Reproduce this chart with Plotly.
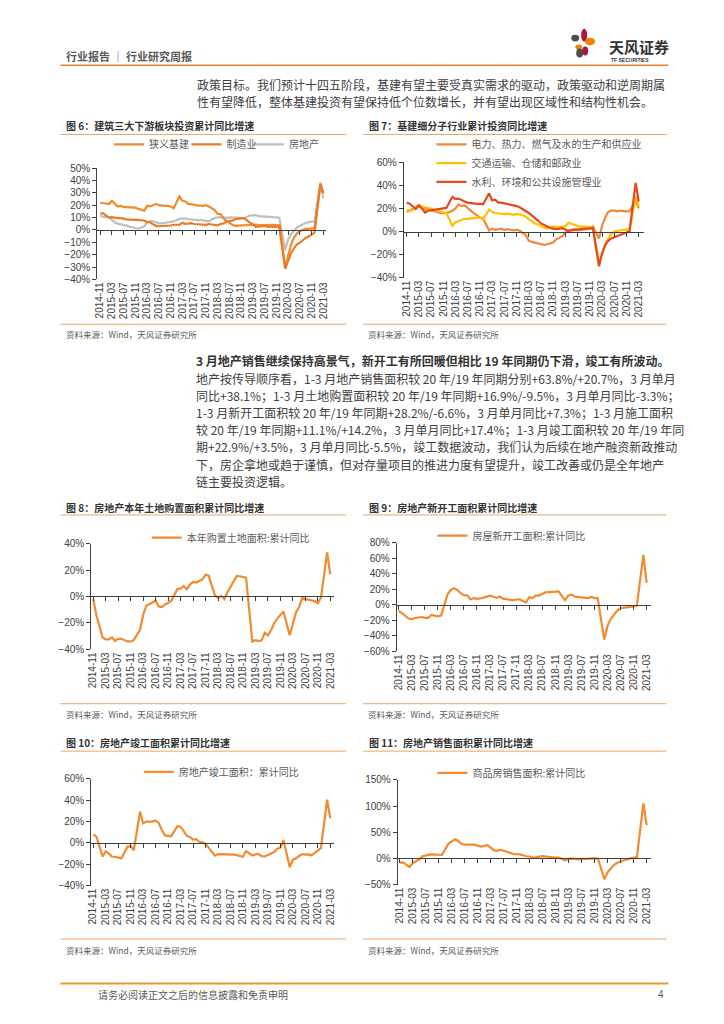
import plotly.graph_objects as go

W, H = 724, 1024
FONT = "Noto Sans CJK SC"
NUMFONT = "Liberation Sans"

# ---------------- data ----------------
months = []
for yy in range(2014, 2022):
    for mm in range(1, 13):
        if (yy == 2014 and mm < 11) or (yy == 2021 and mm > 3):
            continue
        months.append(f"{yy}-{mm:02d}")
tick_labels = months[::4]

# Fig 6
infra = [22.0, 21.5,
         None, 21.0, 23.5, 21.0, 19.0, 19.5, 18.5, 18.5, 18.2, 17.8, 18.0, 17.0,
         None, 15.5, 19.5, 19.0, 20.0, 21.0, 20.0, 19.5, 19.5, 19.5, 19.0, 17.5,
         None, 27.0, 23.5, 23.0, 21.0, 21.0, 20.5, 19.8, 19.5, 19.5, 20.0, 19.0,
         None, 16.1, 13.0, 12.9, 9.4, 7.3, 5.7, 4.2, 3.3, 3.7, 3.7, 3.8,
         None, 4.3, 4.4, 4.4, 4.0, 4.1, 3.8, 4.2, 4.5, 4.2, 4.0, 3.8,
         None, -30.3, -19.7, -11.8, -6.3, -2.7, -1.0, 0.2, 0.7, 1.0, 1.2, 0.9,
         None, 36.6, 29.7]
manuf = [13.5, 13.5,
         None, 10.0, 10.4, 10.0, 9.9, 9.7, 9.2, 8.6, 8.3, 8.3, 8.2, 8.1,
         None, 7.5, 6.4, 6.0, 4.6, 3.3, 3.0, 3.0, 3.1, 3.1, 3.6, 4.2,
         None, 4.3, 5.8, 5.0, 5.1, 5.5, 4.8, 4.5, 4.2, 4.1, 4.1, 4.8,
         None, 4.3, 3.8, 4.8, 5.2, 6.8, 7.3, 7.5, 8.7, 9.1, 9.5, 9.5,
         None, 5.9, 4.6, 2.5, 2.7, 3.0, 3.3, 2.6, 2.5, 2.6, 2.5, 3.1,
         None, -31.5, -25.2, -18.8, -14.8, -11.7, -10.2, -8.1, -6.5, -5.3, -3.5, -2.2,
         None, 37.3, 29.8]
realty = [11.9, 10.5,
          None, 10.4, 8.5, 6.0, 5.1, 4.6, 4.3, 3.5, 2.6, 2.0, 1.3, 1.0,
          None, 3.0, 6.2, 7.2, 7.0, 6.1, 5.3, 5.4, 5.8, 6.6, 6.5, 6.9,
          None, 8.9, 9.1, 9.3, 8.8, 8.5, 7.9, 7.9, 8.1, 7.8, 7.5, 7.0,
          None, 9.9, 10.4, 10.3, 10.2, 9.7, 10.2, 10.1, 9.9, 9.7, 9.7, 9.5,
          None, 11.6, 11.8, 11.9, 11.2, 10.9, 10.6, 10.5, 10.5, 10.3, 10.2, 9.9,
          None, -16.3, -7.7, -3.3, -0.3, 1.9, 3.4, 4.6, 5.6, 6.3, 6.8, 7.0,
          None, 38.3, 25.6]

# Fig 7
power = [18.0, 18.0,
         None, 21.0, 23.0, 21.0, 19.5, 19.0, 18.5, 18.0, 17.0, 16.0, 16.0, 16.0,
         None, 18.0, 20.0, 23.5, 22.0, 22.5, 20.0, 18.0, 16.0, 14.0, 12.0, 11.3,
         None, 1.0, 2.5, 1.5, 2.0, 2.5, 1.5, 2.0, 1.5, 1.0, 1.5, 0.8,
         None, -3.0, -8.0, -9.0, -9.5, -10.0, -11.0, -11.5, -11.0, -10.0, -9.5, -6.7,
         None, -4.0, -1.0, 1.0, 1.5, 2.0, 1.0, 1.5, 2.0, 2.5, 2.5, 4.5,
         None, -6.0, 5.0, 12.0, 17.0, 18.0, 18.0, 17.5, 18.0, 17.5, 17.5, 17.6,
         None, 27.0, 20.0]
transport = [17.0, 17.5,
             None, 20.0, 22.5, 21.5, 21.0, 20.5, 19.5, 19.0, 18.0, 17.0, 16.5, 16.0,
             None, 5.0, 8.0, 9.0, 10.0, 11.0, 11.0, 11.5, 12.0, 12.0, 12.0, 10.5,
             None, 19.0, 17.0, 16.0, 15.5, 15.0, 15.0, 15.5, 15.0, 14.5, 15.0, 14.8,
             None, 13.0, 10.5, 9.0, 7.0, 6.0, 4.5, 3.5, 3.0, 4.0, 4.5, 3.9,
             None, 4.0, 4.5, 7.5, 6.5, 5.5, 5.0, 4.5, 4.5, 4.0, 4.0, 3.4,
             None, -28.0, -19.0, -11.0, -6.0, -2.0, 0.0, 0.5, 1.0, 1.5, 1.8, 1.4,
             None, 30.0, 22.0]
water = [25.0, 24.0,
         None, 19.5, 22.5, 20.0, 16.5, 18.0, 18.5, 19.0, 19.5, 20.0, 20.5, 20.4,
         None, 30.0, 28.0, 28.5, 27.0, 26.0, 25.0, 24.5, 24.0, 24.0, 24.0, 23.5,
         None, 33.0, 27.0, 27.5, 25.0, 25.0, 24.5, 24.0, 23.0, 22.5, 22.0, 21.0,
         None, 18.0, 16.0, 14.0, 12.0, 9.5, 7.0, 5.5, 4.0, 3.0, 2.5, 2.0,
         None, 3.0, 1.5, 0.5, 1.0, 1.5, 1.5, 2.0, 2.5, 2.5, 3.0, 2.9,
         None, -30.0, -19.0, -12.0, -8.0, -6.0, -5.0, -4.0, -3.0, -2.0, -1.0, 0.2,
         None, 42.0, 26.0]

# Fig 8
land = [-2.0, -14.0,
        None, -31.0, -32.5, -32.5, -31.0, -33.5, -32.0, -32.0, -33.0, -34.0, -34.0, -33.0,
        None, -25.0, -14.0, -7.0, -6.0, -4.5, -3.0, -7.5, -8.0, -6.0, -5.0, -3.4,
        None, 5.8, 6.0, 8.0, 5.5, 9.0, 11.0, 10.5, 12.0, 13.0, 16.5, 15.8,
        None, 1.0, -1.0, 0.5, -2.0, 3.0, 7.5, 11.5, 15.5, 15.3, 14.5, 14.2,
        None, -34.1, -33.1, -33.8, -33.2, -27.5, -29.4, -25.6, -20.2, -16.7, -14.2, -11.4,
        None, -29.3, -21.0, -12.0, -8.0, -1.0, -1.9, -2.5, -3.0, -3.5, -5.0, -1.1,
        None, 33.3, 16.9]

# Fig 9
newstart = [-8.0, -10.7,
            None, -17.7, -18.4, -17.0, -16.0, -15.8, -16.8, -16.8, -13.0, -13.9, -15.0, -14.0,
            None, 13.7, 19.2, 21.4, 18.9, 14.9, 12.3, 12.2, 6.9, 8.6, 7.6, 8.1,
            None, 10.4, 11.6, 10.4, 8.8, 10.6, 7.9, 7.2, 6.5, 5.6, 6.8, 7.0,
            None, 2.9, 9.7, 8.5, 11.8, 11.8, 14.4, 15.9, 16.4, 16.3, 16.8, 17.2,
            None, 6.0, 11.9, 13.1, 10.5, 10.1, 9.5, 8.9, 8.6, 10.0, 8.6, 8.5,
            None, -44.9, -27.2, -18.4, -12.8, -7.6, -4.5, -3.6, -3.4, -2.7, -2.0, -1.2,
            None, 64.3, 28.2]

# Fig 10
complete = [8.0, 5.9,
            None, -12.8, -8.0, -10.0, -12.9, -13.0, -13.5, -14.5, -9.0, -3.5, -3.0, -6.9,
            None, 29.3, 18.3, 20.0, 20.0, 20.0, 21.0, 18.5, 12.0, 7.0, 6.5, 6.1,
            None, 15.8, 15.0, 11.0, 6.5, 5.5, 3.0, 3.5, 1.0, 0.5, -1.0, -4.4,
            None, -12.0, -10.5, -10.5, -10.6, -11.0, -10.6, -11.0, -11.5, -12.5, -13.0, -7.8,
            None, -11.9, -10.8, -10.3, -12.4, -12.7, -11.3, -10.0, -8.6, -5.5, -4.5, 2.6,
            None, -22.9, -15.8, -14.5, -12.3, -10.5, -11.0, -10.8, -11.6, -9.2, -7.0, -4.9,
            None, 40.4, 22.9]

# Fig 11
sales = [-8.0, -7.6,
         None, -16.3, -9.2, -5.4, -2.2, 3.9, 6.1, 7.2, 7.5, 7.2, 7.4, 6.5,
         None, 28.2, 33.1, 36.5, 33.2, 27.9, 26.4, 26.2, 26.9, 26.3, 24.3, 22.5,
         None, 25.1, 19.5, 15.7, 14.3, 16.1, 14.7, 12.7, 10.3, 8.2, 7.9, 7.7,
         None, 4.1, 3.6, 1.3, 2.9, 3.3, 4.2, 4.0, 2.9, 2.2, 1.4, 1.3,
         None, -3.6, -0.9, -0.3, -1.6, -1.8, -1.3, -0.6, -0.1, 0.1, 0.2, -0.1,
         None, -39.9, -26.3, -19.3, -12.3, -8.4, -5.8, -3.3, -1.8, 0.0, 1.3, 2.6,
         None, 104.9, 63.8]

ORANGE = "#F28A30"
C_INFRA, C_MANUF, C_REALTY = "#F5892A", "#EE7A22", "#BFBFBF"
C_POWER, C_TRANS, C_WATER = "#F0883A", "#FFC000", "#E9461C"

# ---------------- layout helpers ----------------
def px(x):
    return x / W

def py(y):
    return 1 - y / H

fig = go.Figure()
layout = {}
shapes = []
annotations = []

panels = [
    dict(x0=94, x1=325, yt=164, yb=276.7, yr=(-40, 50), dt=10, fx=97, lx=322),
    dict(x0=403, x1=645, yt=158, yb=275, yr=(-40, 60), dt=20, fx=406, lx=640),
    dict(x0=88, x1=333, yt=544, yb=651, yr=(-40, 40), dt=20, fx=90, lx=329),
    dict(x0=396, x1=652, yt=543, yb=653, yr=(-60, 80), dt=20, fx=398, lx=648),
    dict(x0=88, x1=333, yt=782, yb=890, yr=(-40, 60), dt=20, fx=90, lx=329),
    dict(x0=397, x1=652, yt=783, yb=889, yr=(-50, 150), dt=50, fx=399, lx=648),
]
n = len(months)
for i, p in enumerate(panels, start=1):
    ppm = (p["lx"] - p["fx"]) / (n - 1)
    xr = [-(p["fx"] - p["x0"]) / ppm, (n - 1) + (p["x1"] - p["lx"]) / ppm]
    dx = [px(p["x0"]), px(p["x1"])]
    dy = [py(p["yb"]), py(p["yt"])]
    sx = "" if i == 1 else str(i)
    layout["xaxis" + sx] = dict(
        domain=dx, anchor="y" + sx, range=xr, type="category",
        categoryorder="array", categoryarray=months,
        tickmode="array", tickvals=tick_labels, ticktext=tick_labels,
        tickangle=-90, ticks="", showline=False, showgrid=False, zeroline=False,
        tickfont=dict(family=NUMFONT, size=10, color="#404040"),
    )
    layout["yaxis" + sx] = dict(
        domain=dy, anchor="x" + sx, range=list(p["yr"]), dtick=p["dt"],
        tick0=0, ticksuffix="%", showline=True, linecolor="#404040", linewidth=1,
        ticks="outside", ticklen=4, tickcolor="#404040", showgrid=False,
        zeroline=False, tickfont=dict(family=NUMFONT, size=10, color="#404040"),
    )
    frac = (0 - p["yr"][0]) / (p["yr"][1] - p["yr"][0])
    zpos = dy[0] + frac * (dy[1] - dy[0])
    k = i + 6
    layout["xaxis" + str(k)] = dict(
        overlaying="x" + sx, anchor="free", position=zpos, range=xr,
        type="category", categoryorder="array", categoryarray=months,
        tickmode="array", tickvals=tick_labels, showticklabels=False,
        ticks="outside", ticklen=4, tickcolor="#404040", showline=True,
        linecolor="#404040", linewidth=1, showgrid=False, zeroline=False,
    )

series = [
    (1, "狭义基建", infra, C_INFRA),
    (1, "制造业", manuf, C_MANUF),
    (1, "房地产", realty, C_REALTY),
    (2, "电力、热力、燃气及水的生产和供应业", power, C_POWER),
    (2, "交通运输、仓储和邮政业", transport, C_TRANS),
    (2, "水利、环境和公共设施管理业", water, C_WATER),
    (3, "本年购置土地面积:累计同比", land, ORANGE),
    (4, "房屋新开工面积:累计同比", newstart, ORANGE),
    (5, "房地产竣工面积：累计同比", complete, ORANGE),
    (6, "商品房销售面积:累计同比", sales, ORANGE),
]
legend_pos = [(114, 143), (192, 143), (255, 143),
              (439, 143), (439, 162), (439, 181),
              (152, 541), (440, 539), (144, 778), (440, 779)]

order = [2, 0, 1, 3, 4, 5, 6, 7, 8, 9]
for j in order:
    pi, name, vals, col = series[j]
    sx = "" if pi == 1 else str(pi)
    lg = "legend" if j == 0 else "legend" + str(j + 1)
    fig.add_trace(go.Scatter(
        x=months, y=vals, name=name, mode="lines", connectgaps=True,
        line=dict(color=col, width=2.2), xaxis="x" + sx, yaxis="y" + sx,
        legend=lg, hoverinfo="skip"))
for i in range(1, 7):
    fig.add_trace(go.Scatter(
        x=months, y=series[[0, 3, 6, 7, 8, 9][i - 1]][2], mode="lines",
        line=dict(width=0, color="rgba(0,0,0,0)"), showlegend=False,
        xaxis="x" + str(i + 6), yaxis="y" + ("" if i == 1 else str(i)),
        hoverinfo="skip"))

for j, (lx, ly) in enumerate(legend_pos):
    key = "legend" if j == 0 else "legend" + str(j + 1)
    layout[key] = dict(
        x=px(lx - 8), y=py(ly - 3), xanchor="left", yanchor="middle",
        orientation="h", bgcolor="rgba(0,0,0,0)", borderwidth=0,
        font=dict(family=FONT, size=10, color="#595959"),
        itemwidth=30, tracegroupgap=0)

# ---------------- page text ----------------
def text(x, y, s, size=11, color="#404040", bold=False, anchor="left", family=FONT):
    annotations.append(dict(
        x=px(x), y=py(y), xref="paper", yref="paper", text=("<b>%s</b>" % s) if bold else s,
        showarrow=False, xanchor=anchor, yanchor="middle",
        font=dict(family=family, size=size, color=color)))

def hline(x0, x1, y, color, width=1):
    shapes.append(dict(type="line", xref="paper", yref="paper",
                       x0=px(x0), x1=px(x1), y0=py(y), y1=py(y),
                       line=dict(color=color, width=width)))

text(60, 51, "行业报告 ｜ 行业研究周报", size=11, color="#595959", bold=True)
hline(57, 670, 60, "#ED7D31", 1.6)
text(608, 40.5, "天风证券", size=15, color="#333333", bold=True)
text(610, 54.5, "TF SECURITIES", size=5, color="#333333", bold=True, family=NUMFONT)
petals = [
    (572, 29, 580, 36, "#4D4D4D"),
    (582, 23, 588, 36, "#B5123E"),
    (586, 32, 596, 40, "#F08300"),
    (576, 39, 583, 44, "#F08300"),
    (577, 43, 584, 52, "#4D4D4D"),
    (583, 41, 589, 50, "#B5123E"),
]
for x0, y0, x1, y1, c in petals:
    shapes.append(dict(type="circle", xref="paper", yref="paper",
                       x0=px(x0), x1=px(x1), y0=py(y1), y1=py(y0),
                       fillcolor=c, line=dict(width=0)))

para1 = ["政策目标。我们预计十四五阶段，基建有望主要受真实需求的驱动，政策驱动和逆周期属",
         "性有望降低，整体基建投资有望保持低个位数增长，并有望出现区域性和结构性机会。"]
for k, s in enumerate(para1):
    text(193, 79 + 17.6 * k, s, size=12, color="#404040")

para2 = ["地产按传导顺序看，1-3 月地产销售面积较 20 年/19 年同期分别+63.8%/+20.7%，3 月单月",
         "同比+38.1%；1-3 月土地购置面积较 20 年/19 年同期+16.9%/-9.5%，3 月单月同比-3.3%；",
         "1-3 月新开工面积较 20 年/19 年同期+28.2%/-6.6%，3 月单月同比+7.3%；1-3 月施工面积",
         "较 20 年/19 年同期+11.1%/+14.2%，3 月单月同比+17.4%；1-3 月竣工面积较 20 年/19 年同",
         "期+22.9%/+3.5%，3 月单月同比-5.5%，竣工数据波动，我们认为后续在地产融资新政推动",
         "下，房企拿地或趋于谨慎，但对存量项目的推进力度有望提升，竣工改善或仍是全年地产",
         "链主要投资逻辑。"]
text(192, 359, "3 月地产销售继续保持高景气，新开工有所回暖但相比 19 年同期仍下滑，竣工有所波动。",
     size=12, color="#333333", bold=True)
for k, s in enumerate(para2):
    text(192, 376.5 + 17.4 * k, s, size=12, color="#404040")

titles = [
    (60, 121, "图 6：建筑三大下游板块投资累计同比增速"),
    (366, 121, "图 7：基建细分子行业累计投资同比增速"),
    (60, 507, "图 8：房地产本年土地购置面积累计同比增速"),
    (366, 507, "图 9：房地产新开工面积累计同比增速"),
    (60, 745, "图 10：房地产竣工面积累计同比增速"),
    (366, 745, "图 11：房地产销售面积累计同比增速"),
]
for x, y, s in titles:
    text(x, y, s, size=10, color="#333333", bold=True)
frames = [(57, 345, 130, 322, 332), (362, 668, 130, 322, 332),
          (57, 345, 515, 706, 716), (362, 668, 515, 706, 716),
          (57, 345, 754, 944, 955), (362, 668, 754, 944, 955)]
for x0, x1, yt, yb, ys in frames:
    hline(x0, x1, yt, "#F4A460", 1)
    hline(x0, x1, yb, "#F4A460", 1)
    text(x0 + 3, ys, "资料来源：Wind，天风证券研究所", size=8.5, color="#595959")

hline(57, 670, 989, "#EE9A2E", 2)
text(93, 1000, "请务必阅读正文之后的信息披露和免责申明", size=10, color="#595959")
text(668, 1000, "4", size=10, color="#595959", anchor="right", family=NUMFONT)

fig.update_layout(
    width=W, height=H, margin=dict(l=0, r=0, t=0, b=0),
    paper_bgcolor="white", plot_bgcolor="rgba(0,0,0,0)",
    shapes=shapes, annotations=annotations, hovermode=False,
    **layout)
fig.write_html("out.html", config={"displayModeBar": False, "staticPlot": True},
               post_script="document.body.style.margin='0';document.body.style.overflow='hidden';")
